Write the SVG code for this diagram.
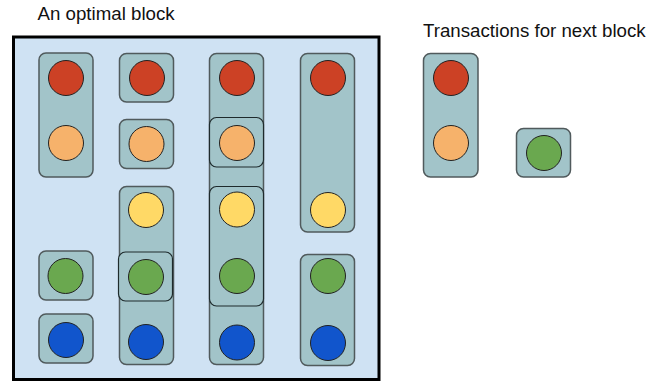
<svg xmlns="http://www.w3.org/2000/svg" width="647" height="381" viewBox="0 0 647 381">
  <style>
    .label { font-family: "Liberation Sans", Arial, sans-serif; font-size: 18.7px; fill: #111; }
    .block { fill: #cfe2f3; stroke: #000; stroke-width: 3; }
    .tx { fill: #a2c4c9; stroke: #505a5c; stroke-width: 1.5; }
    .tx-inner { fill: #a2c4c9; stroke: #1e2a2c; stroke-width: 1.2; }
    .c { stroke: #222; stroke-width: 1; }
    .red { fill: #cc4125; }
    .orange { fill: #f6b26b; }
    .yellow { fill: #ffd966; }
    .green { fill: #6aa84f; }
    .blue { fill: #1155cc; }
  </style>

  <text class="label" x="37.5" y="20">An optimal block</text>
  <text class="label" x="423" y="37">Transactions for next block</text>

  <!-- the block -->
  <rect id="block" class="block" x="13.5" y="37" width="365.5" height="342.5"/>

  <g id="connectors"/>

  <!-- column 1 -->
  <g id="tx-1a">
    <rect class="tx" x="39" y="53" width="54" height="124" rx="7"/>
    <circle class="c red" cx="66" cy="78" r="17.5"/>
    <circle class="c orange" cx="66" cy="143" r="17.5"/>
  </g>
  <g id="tx-1b">
    <rect class="tx" x="39" y="251" width="54" height="49" rx="7"/>
    <circle class="c green" cx="65.5" cy="276" r="17.5"/>
  </g>
  <g id="tx-1c">
    <rect class="tx" x="39" y="314" width="54" height="49" rx="7"/>
    <circle class="c blue" cx="66" cy="340" r="17.5"/>
  </g>

  <!-- column 2 -->
  <g id="tx-2a">
    <rect class="tx" x="119.5" y="53.5" width="54" height="48.5" rx="7"/>
    <circle class="c red" cx="147" cy="78" r="17.5"/>
  </g>
  <g id="tx-2b">
    <rect class="tx" x="119.5" y="119.5" width="54" height="49" rx="7"/>
    <circle class="c orange" cx="146.5" cy="144" r="17.5"/>
  </g>
  <g id="tx-2c">
    <rect class="tx" x="119.5" y="186.5" width="54" height="178" rx="7"/>
    <circle class="c yellow" cx="146" cy="210" r="17.5"/>
    <rect class="tx-inner" x="118.5" y="252" width="54" height="49" rx="7"/>
    <circle class="c green" cx="146" cy="277" r="17.5"/>
    <circle class="c blue" cx="146" cy="342" r="17.5"/>
  </g>

  <!-- column 3 -->
  <g id="tx-3">
    <rect class="tx" x="209.5" y="53.5" width="54" height="311" rx="7"/>
    <circle class="c red" cx="237" cy="78" r="17.5"/>
    <rect class="tx-inner" x="209.5" y="117.5" width="54" height="49.5" rx="7"/>
    <circle class="c orange" cx="237" cy="143" r="17.5"/>
    <rect class="tx-inner" x="209.5" y="186.5" width="54" height="119.5" rx="7"/>
    <circle class="c yellow" cx="237" cy="209.5" r="17.5"/>
    <circle class="c green" cx="237" cy="276" r="17.5"/>
    <circle class="c blue" cx="237" cy="342.5" r="17.5"/>
  </g>

  <!-- column 4 -->
  <g id="tx-4a">
    <rect class="tx" x="300.5" y="53.5" width="54" height="178.5" rx="7"/>
    <circle class="c red" cx="328" cy="78" r="17.5"/>
    <circle class="c yellow" cx="328" cy="210" r="17.5"/>
  </g>
  <g id="tx-4b">
    <rect class="tx" x="300.5" y="254.5" width="54" height="111" rx="7"/>
    <circle class="c green" cx="328" cy="276" r="17.5"/>
    <circle class="c blue" cx="328" cy="343" r="17.5"/>
  </g>

  <!-- waiting for the next block -->
  <g id="next-1">
    <rect class="tx" x="423.5" y="53.5" width="54.5" height="123.5" rx="7"/>
    <circle class="c red" cx="451" cy="78" r="17.5"/>
    <circle class="c orange" cx="451" cy="143" r="17.5"/>
  </g>
  <g id="next-2">
    <rect class="tx" x="516.5" y="128.5" width="54" height="48.5" rx="7"/>
    <circle class="c green" cx="544" cy="153" r="17.5"/>
  </g>
</svg>
